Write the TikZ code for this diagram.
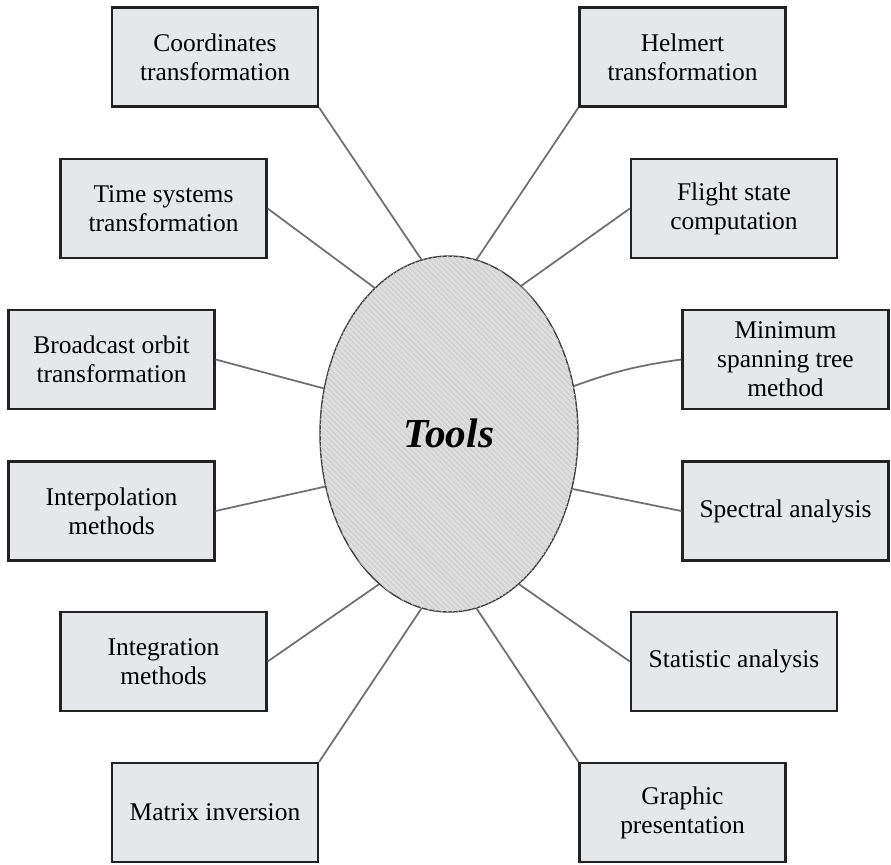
\documentclass[tikz,border=0pt]{standalone}
\usepackage{fontspec}
\setmainfont{Liberation Serif}
\usetikzlibrary{shapes.geometric,patterns.meta}
\definecolor{boxfill}{HTML}{E6E7EB}
\definecolor{boxline}{HTML}{222222}
\definecolor{linkcol}{HTML}{707070}
\definecolor{ellfill}{HTML}{DEDEDE}
\definecolor{hatchcol}{HTML}{CACACA}
\tikzset{
  toolbox/.style={draw=boxline, line width=1.3pt, fill=boxfill, minimum width=4.12cm, minimum height=1.98cm, inner sep=2pt, align=center, font=\fontsize{14.5}{16.5}\selectfont},
  hub/.style={ellipse, draw=black!75, line width=0.8pt, fill=ellfill, minimum width=5.16cm, minimum height=7.12cm, inner sep=0pt,
    postaction={pattern={Lines[angle=-45,distance=2.2pt,line width=0.45pt]}, pattern color=hatchcol}},
  link/.style={draw=linkcol, line width=1pt}
}
\begin{document}
\begin{tikzpicture}[x=0.02cm,y=-0.02cm]
\useasboundingbox (0,0) rectangle (891,864);
\node[hub] (T) at (449,434) {};
\node[font=\fontsize{23.5}{26}\selectfont\bfseries\itshape] (Tl) at (449,433) {Tools};
\node[toolbox] (coord) at (215,57) {Coordinates\\transformation};
\node[toolbox] (helm) at (682.5,57) {Helmert\\transformation};
\node[toolbox] (time) at (163.5,208.5) {Time systems\\transformation};
\node[toolbox] (flight) at (734,208.5) {Flight state\\computation};
\node[toolbox] (broad) at (111.5,359.5) {Broadcast orbit\\transformation};
\node[toolbox] (mst) at (785.5,359.5) {Minimum\\spanning tree\\method};
\node[toolbox] (interp) at (111.5,511) {Interpolation\\methods};
\node[toolbox] (spec) at (785.5,511) {Spectral analysis};
\node[toolbox] (integ) at (163.5,661.5) {Integration\\methods};
\node[toolbox] (stat) at (734,661.5) {Statistic analysis};
\node[toolbox] (matrix) at (215,812.5) {Matrix inversion};
\node[toolbox] (graph) at (682.5,812.5) {Graphic\\presentation};
\draw[link] (coord.south east) -- (T.99);
\draw[link] (helm.south west) -- (T.81);
\draw[link] (time.east) -- (T.117);
\draw[link] (flight.west) -- (T.64);
\draw[link] (broad.east) -- (T.160);
\draw[link] (mst.west) to[bend right=6] (T.21);
\draw[link] (interp.east) -- (T.203);
\draw[link] (spec.west) -- (T.336);
\draw[link] (integ.east) -- (T.245);
\draw[link] (stat.west) -- (T.295);
\draw[link] (matrix.north east) -- (T.261);
\draw[link] (graph.north west) -- (T.279);
\end{tikzpicture}
\end{document}
